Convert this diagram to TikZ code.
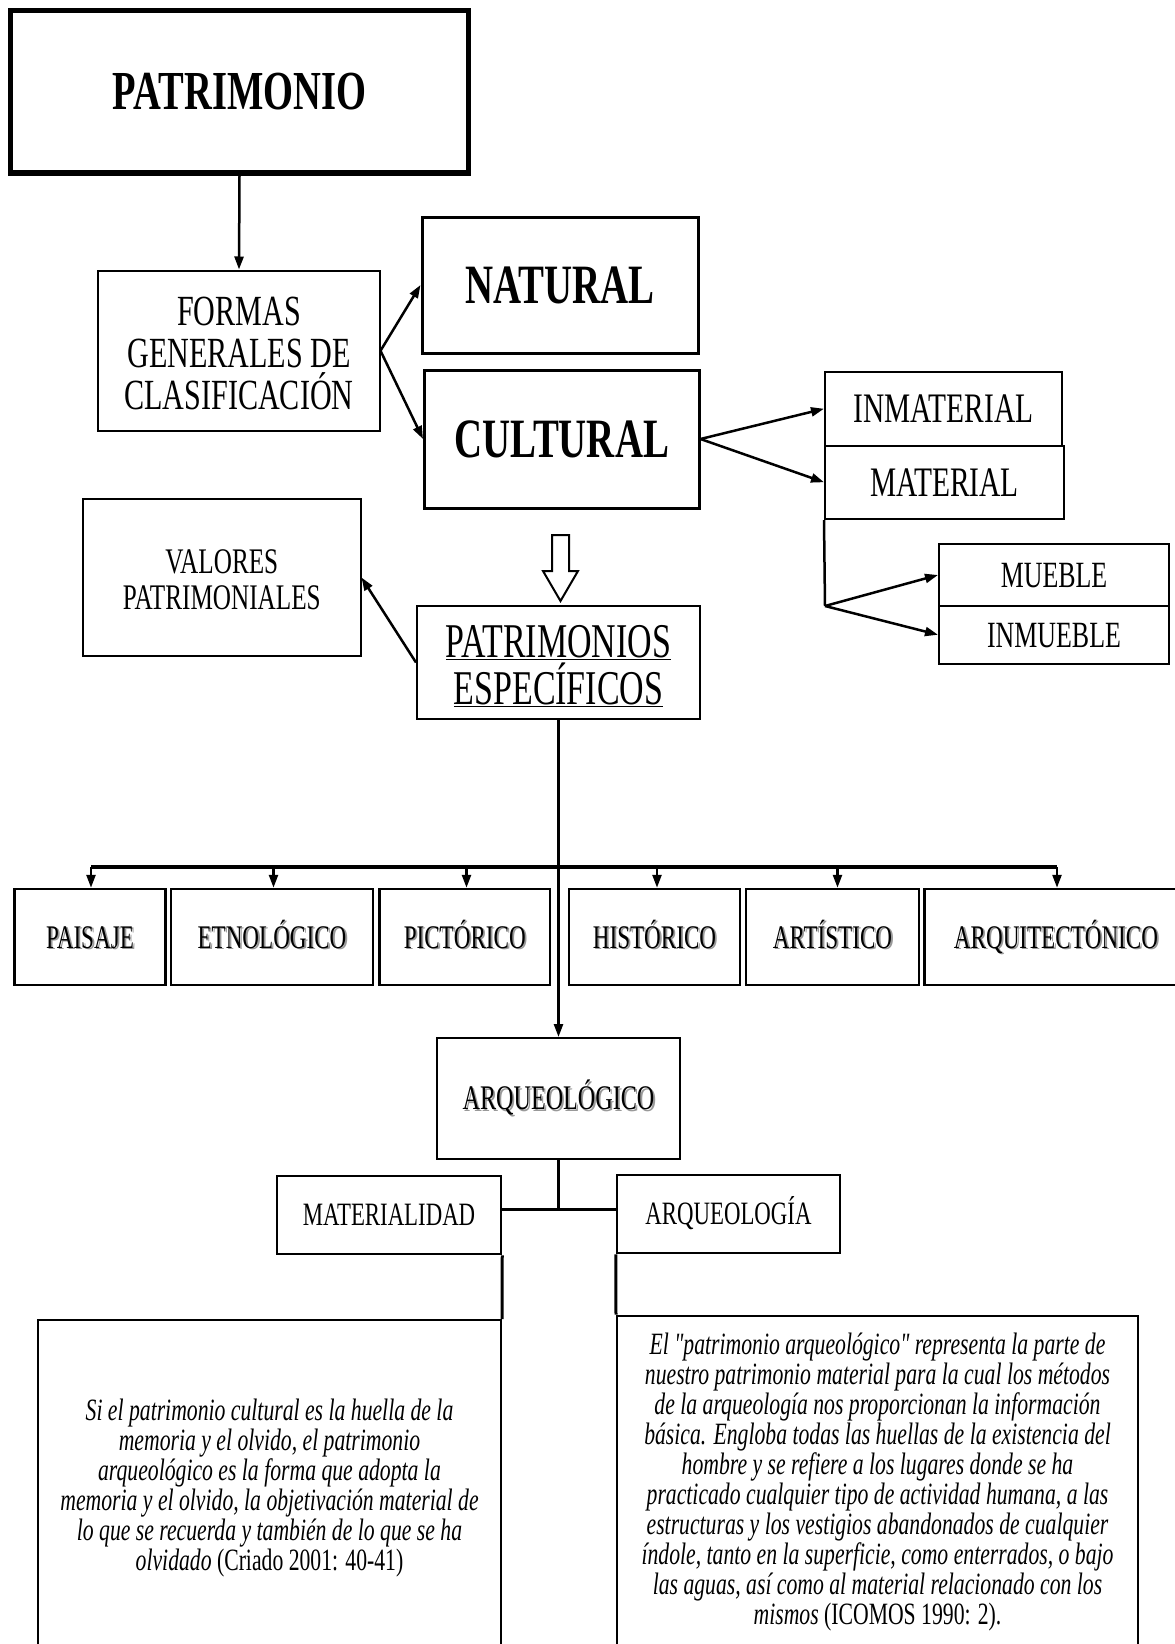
\documentclass[tikz,border=0pt]{standalone}
\usepackage{fontspec}
\setmainfont{Liberation Serif}[FakeStretch=0.7,Ligatures=TeXOff]
\usetikzlibrary{arrows.meta}
\newcommand\fs[2]{\fontsize{#1bp}{#2bp}\selectfont}
\newcommand\shtxt[1]{\makebox[0pt][l]{\hspace{1.8bp}\raisebox{-1.8bp}{\color{black!40}#1}}#1}
\begin{document}
\begin{tikzpicture}[x=1bp,y=-1bp,
  box/.style={draw,line width=2bp,rectangle,inner sep=0pt,align=center},
  arr/.style={line width=2.5bp,-{Triangle[length=13bp,width=9bp]}},
  ln/.style={line width=3bp},
  rowbox/.style={box,line width=2.5bp,minimum height=96bp,font=\fs{33}{36},text height=22bp,text depth=0bp}]
\useasboundingbox (0,0) rectangle (1174,1644);
\fill[white] (0,0) rectangle (1174,1644);
% top
\node[box,line width=5.5bp,minimum width=458bp,minimum height=162.5bp,font=\fs{55}{60}\bfseries] (patr) at (239.5,91.75) {PATRIMONIO};
\node[box,minimum width=281bp,minimum height=160.5bp,font=\fs{43}{42}] (formas) at (239,350.75) {\rule{0pt}{33.5bp}FORMAS\\GENERALES DE\\CLASIFICACIÓN};
\node[box,line width=3bp,minimum width=276bp,minimum height=136bp,font=\fs{55.5}{60}\bfseries] (natural) at (560,285) {NATURAL};
\node[box,line width=3bp,minimum width=274.5bp,minimum height=138bp,font=\fs{55.5}{60}\bfseries] (cultural) at (561.75,439) {CULTURAL};
\node[box,minimum width=237bp,minimum height=73.5bp,font=\fs{42}{44}] (inmat) at (943.5,408.75) {INMATERIAL};
\node[box,minimum width=239bp,minimum height=73.5bp,font=\fs{42}{44}] (mat) at (944.5,482.25) {MATERIAL};
\node[box,minimum width=230bp,minimum height=62bp,font=\fs{37}{40},text height=24.5bp,text depth=0bp] (mueble) at (1054,575) {MUEBLE};
\node[box,minimum width=230bp,minimum height=57.5bp,font=\fs{37}{40},text height=24.5bp,text depth=0bp] (inmueble) at (1054,634.75) {INMUEBLE};
\node[box,minimum width=277.5bp,minimum height=157bp,font=\fs{36}{36}] (valores) at (221.75,577.5) {\rule{0pt}{29bp}VALORES\\PATRIMONIALES};
\node[box,minimum width=283bp,minimum height=113bp,font=\fs{48.5}{47}] (pe) at (558.5,662.5) {\rule{0pt}{40bp}\underline{PATRIMONIOS}\\\underline{ESPECÍFICOS}};
% hollow arrow
\draw[line width=2bp,fill=white,line join=miter] (552,535) -- (569,535) -- (569,571) -- (578,571) -- (560.5,601) -- (543,571) -- (552,571) -- cycle;
% connectors top
\draw[arr] (patr.south) -- (formas.north);
\draw[arr] (formas.east) -- (natural.west);
\draw[arr] (formas.east) -- (cultural.west);
\draw[arr] (cultural.east) -- (inmat.west);
\draw[arr] (cultural.east) -- (mat.west);
\coordinate (fork) at (825,606);
\draw[line width=2.5bp] (mat.south west) -- (fork);
\draw[arr] (fork) -- (mueble.west);
\draw[arr] (fork) -- (inmueble.west);
\draw[arr] (pe.west) -- (valores.east);
% row
\node[rowbox,minimum width=151bp] (paisaje) at (90,937) {\shtxt{PAISAJE}};
\node[rowbox,minimum width=202bp] (etno) at (272,937) {\shtxt{ETNOLÓGICO}};
\node[rowbox,minimum width=170.5bp] (pict) at (464.75,937) {\shtxt{PICTÓRICO}};
\node[rowbox,minimum width=171bp] (hist) at (654.5,937) {\shtxt{HISTÓRICO}};
\node[rowbox,minimum width=173bp] (art) at (832.5,937) {\shtxt{ARTÍSTICO}};
\node[rowbox,minimum width=263bp] (arq) at (1056,937) {\shtxt{ARQUITECTÓNICO}};
\node[box,minimum width=243bp,minimum height=121bp,font=\fs{34.5}{36},text height=22.8bp,text depth=0bp] (arqueo) at (558.5,1098.5) {\shtxt{ARQUEOLÓGICO}};
\draw[arr] (pe.south) -- (arqueo.north);
\coordinate (bl) at (91,867);
\coordinate (br) at (1057,867);
\draw[line width=3.5bp] (bl) -- (br);
\coordinate (d1) at (91,867);
\coordinate (d2) at (273.5,867);
\coordinate (d3) at (466.5,867);
\coordinate (d4) at (657,867);
\coordinate (d5) at (837.5,867);
\coordinate (d6) at (1057,867);
\draw[arr] (d1) -- (d1 |- paisaje.north);
\draw[arr] (d2) -- (d2 |- etno.north);
\draw[arr] (d3) -- (d3 |- pict.north);
\draw[arr] (d4) -- (d4 |- hist.north);
\draw[arr] (d5) -- (d5 |- art.north);
\draw[arr] (d6) -- (d6 |- arq.north);
% bottom
\node[box,line width=2.5bp,minimum width=224bp,minimum height=78bp,font=\fs{32.6}{36},text height=21.6bp,text depth=0bp] (materialidad) at (389,1215) {MATERIALIDAD};
\node[box,line width=2.5bp,minimum width=223bp,minimum height=78bp,font=\fs{32.6}{36},text height=21.6bp,text depth=0bp] (arqueologia) at (728.5,1214) {ARQUEOLOGÍA};
\coordinate (j) at (558.5,1209);
\draw[ln] (arqueo.south) -- (j);
\draw[ln] (j -| materialidad.east) -- (j -| arqueologia.west);
\node[box,minimum width=463bp,minimum height=336bp,font=\fs{31}{30}] (quote1) at (269.5,1488)
 {\itshape Si el patrimonio cultural es la huella de la\\
  \itshape memoria y el olvido, el patrimonio\\
  \itshape arqueológico es la forma que adopta la\\
  \itshape memoria y el olvido, la objetivación material de\\
  \itshape lo que se recuerda y también de lo que se ha\\
  \textit{olvidado} (Criado 2001: 40-41)};
\node[box,minimum width=521bp,minimum height=334bp,font=\fs{31}{30}] (quote2) at (877.5,1482.5)
 {\itshape El "patrimonio arqueológico" representa la parte de\\
  \itshape nuestro patrimonio material para la cual los métodos\\
  \itshape de la arqueología nos proporcionan la información\\
  \itshape básica. Engloba todas las huellas de la existencia del\\
  \itshape hombre y se refiere a los lugares donde se ha\\
  \itshape practicado cualquier tipo de actividad humana, a las\\
  \itshape estructuras y los vestigios abandonados de cualquier\\
  \itshape índole, tanto en la superficie, como enterrados, o bajo\\
  \itshape las aguas, así como al material relacionado con los\\
  \textit{mismos} (ICOMOS 1990: 2).};
\draw[ln] (materialidad.south east) -- (quote1.north east);
\draw[ln] (arqueologia.south west) -- (quote2.north west);
\end{tikzpicture}
\end{document}
